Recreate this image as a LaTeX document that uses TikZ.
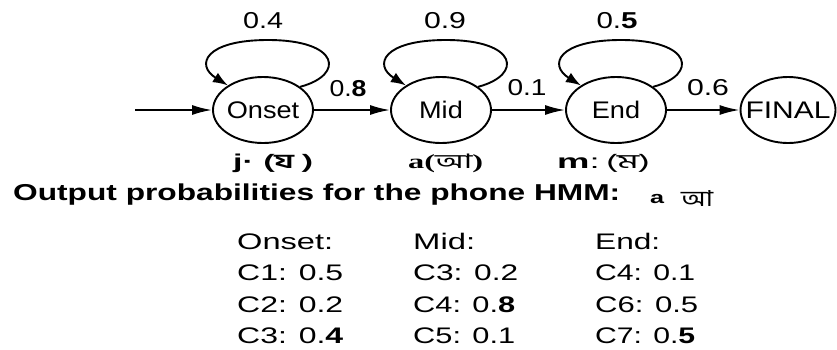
\documentclass[tikz,border=0pt]{standalone}
\usepackage{fontspec}
\setmainfont{Liberation Sans}
\newfontfamily\serifb{Liberation Serif}
\newfontfamily\bn[Script=Bengali]{Hind Siliguri}
\usetikzlibrary{arrows.meta,calc,shapes.geometric}
\newcommand\tw[2]{\resizebox{#1pt}{\height}{#2}}
\newcommand\sx[1]{\scalebox{1.13}[1]{#1}}
\newcommand\selfloop[1]{%
  \draw[larr] (#1.32) .. controls ($(#1)+(82,-35)$) and ($(#1)+(77,-70)$) .. ($(#1)+(5,-70)$)
     .. controls ($(#1)+(-58,-70)$) and ($(#1)+(-68,-45)$) .. (#1.145);}
\tikzset{
  st/.style={draw, ellipse, line width=1.9pt, minimum width=100pt, minimum height=66pt,
    inner sep=0pt, font=\fontsize{24}{24}\selectfont},
  arr/.style={line width=1.9pt, -{Latex[length=20pt,width=10pt]}},
  larr/.style={line width=1.9pt, -{Latex[length=15pt,width=11pt]}},
  plab/.style={anchor=base, inner sep=0pt, font=\fontsize{23}{23}\selectfont},
  tab/.style={anchor=base west, inner sep=0pt, font=\fontsize{22.5}{22.5}\selectfont},
  sub/.style={anchor=base west, inner sep=0pt, font=\fontsize{20}{20}\selectfont},
}
\begin{document}
\begin{tikzpicture}[x=1pt,y=-1pt]
\useasboundingbox[fill=white] (0,0) rectangle (837,349);
% states
\node[st] (on) at (263,110) {\makebox[0pt]{\sx{Onset}}};
\node[st] (mid) at (441,110) {\makebox[0pt]{\sx{Mid}}};
\node[st] (end) at (616,110) {\makebox[0pt]{\sx{End}}};
\node[st, minimum width=95pt] (fin) at (788,110) {\makebox[0pt]{\tw{85}{FINAL}}};
% transitions
\coordinate (s) at (135,110);
\draw[arr] (s) -- (on);
\draw[arr] (on) -- (mid);
\draw[arr] (mid) -- (end);
\draw[arr] (end) -- (fin);
\selfloop{on}
\selfloop{mid}
\selfloop{end}
% transition probabilities
\node[plab] (p04) at (263,28) {\tw{40}{0.4}};
\node[plab] (p09) at (445,28) {\tw{42}{0.9}};
\node[plab] (p05) at (617,28) {\tw{41}{0.\textbf{5}}};
\node[plab] (p08) at (348,96) {\tw{37}{0.\textbf{8}}};
\node[plab] (p01) at (527,95) {\tw{39}{0.1}};
\node[plab] (p06) at (708,95) {\tw{42}{0.6}};
% phone labels
\node[sub] (lj) at (233,168) {\tw{80}{\bfseries j\textperiodcentered\ {\bn (য )}}};
\node[sub] (la) at (408,168) {\tw{75}{{\serifb\bfseries a(}{\bn আ}{\serifb\bfseries )}}};
\node[sub] (lm) at (557,168) {\tw{93}{{\bfseries m}:\,{\bn (ম)}}};
% title
\node[anchor=base west, inner sep=0pt, font=\bfseries\fontsize{23}{23}\selectfont] (title) at (13,200)
  {\tw{607}{Output probabilities for the phone HMM:}};
\node[anchor=base west, inner sep=0pt, font=\bfseries\fontsize{17}{17}\selectfont] (ta) at (650,203) {\tw{14}{a}};
\node[anchor=base west, inner sep=0pt, font=\bn\fontsize{22}{22}\selectfont] (tb) at (681,206) {\tw{32}{আ}};
% output table
\node[tab] (h1) at (237,249) {\tw{96}{Onset:}};
\node[tab] (h2) at (413,249) {\tw{62}{Mid:}};
\node[tab] (h3) at (595,249) {\tw{65}{End:}};
\node[tab] (a1) at (237,280) {\tw{106}{C1: 0.5}};
\node[tab] (a2) at (237,312) {\tw{106}{C2: 0.2}};
\node[tab] (a3) at (237,343) {\tw{106}{C3: 0.\textbf{4}}};
\node[tab] (b1) at (413,280) {\tw{105}{C3: 0.2}};
\node[tab] (b2) at (413,312) {\tw{102}{C4: 0.\textbf{8}}};
\node[tab] (b3) at (413,343) {\tw{102}{C5: 0.1}};
\node[tab] (c1) at (595,280) {\tw{100}{C4: 0.1}};
\node[tab] (c2) at (595,312) {\tw{103}{C6: 0.5}};
\node[tab] (c3) at (595,343) {\tw{100}{C7: 0.\textbf{5}}};
\end{tikzpicture}
\end{document}
